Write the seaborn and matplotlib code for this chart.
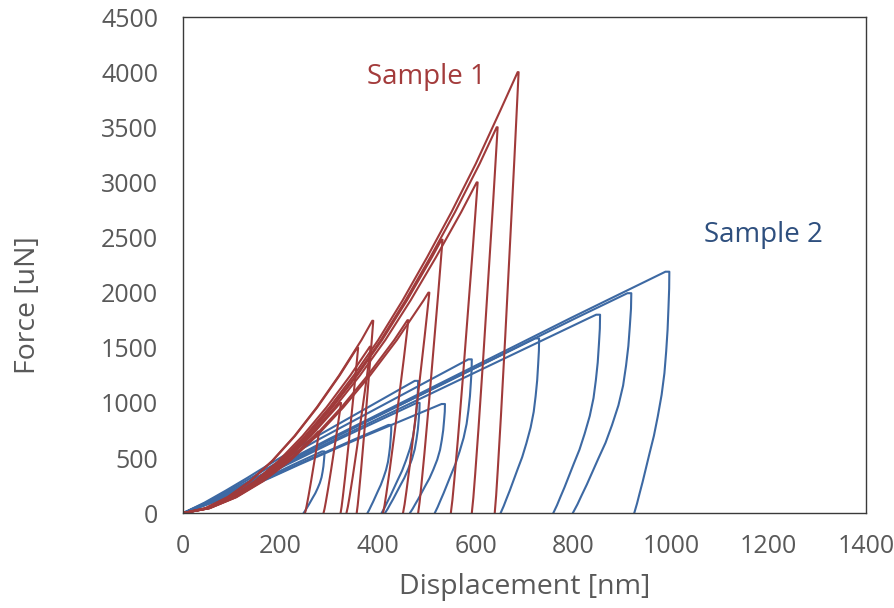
import numpy as np
import pandas as pd
import matplotlib
matplotlib.use('Agg')
import matplotlib.pyplot as plt
import seaborn as sns

sns.set_style('white')
plt.rcParams['font.family'] = ['Open Sans', 'DejaVu Sans']

# master loading curves (displacement nm, force uN)
red_load_h = np.array([0, 50, 100, 150, 200, 250, 300, 350, 400, 450, 500, 550, 600, 650, 700])
red_load_f = np.array([0, 45, 145, 290, 475, 700, 960, 1250, 1570, 1930, 2320, 2730, 3170, 3650, 4140])
blue_load_h = np.array([0, 50, 100, 150, 200, 300, 400, 500, 600, 700, 800, 900, 1000])
blue_load_f = np.array([0, 95, 205, 320, 440, 670, 890, 1110, 1330, 1550, 1770, 1985, 2200])

# sample 1 indents: peak displacement, peak force, residual displacement
s1_peak_h = [277, 322, 357, 383, 388, 460, 503, 530, 602, 643, 686]
s1_peak_f = [740, 1000, 1500, 1510, 1745, 1750, 2000, 2480, 3000, 3500, 4000]
s1_res_h = [250, 288, 323, 335, 356, 410, 451, 482, 549, 592, 639]
s1_creep = [2, 2, 2, 2, 2, 2, 2, 2, 2, 2, 2]

# sample 2 indents
s2_peak_h = [285, 421, 475, 479, 530, 585, 722, 847, 911, 989]
s2_peak_f = [560, 800, 1200, 1000, 990, 1395, 1585, 1800, 1995, 2190]
s2_res_h = [247, 378, 407, 414, 465, 516, 651, 759, 799, 925]
s2_creep = [5, 6, 7, 6, 7, 7, 8, 8, 8, 8]

# unloading shape (fraction of peak force, fraction of peak-to-residual span)
red_unload_f = [0.8, 0.6, 0.4, 0.22, 0.1, 0.04, 0.0]
red_unload_u = [0.82, 0.63, 0.44, 0.26, 0.13, 0.06, 0.0]
blue_unload_f = [0.93, 0.85, 0.76, 0.67, 0.58, 0.49, 0.40, 0.32, 0.25, 0.19, 0.13, 0.08, 0.04, 0.0]
blue_unload_u = [0.995, 0.975, 0.95, 0.91, 0.86, 0.78, 0.67, 0.56, 0.44, 0.34, 0.24, 0.15, 0.08, 0.0]


def build(name, load_h, load_f, peak_h, peak_f, res_h, creep, un_f, un_u):
    rows = []
    for i in range(len(peak_h)):
        s = peak_h[i] / np.interp(peak_f[i], load_f, load_h)
        keep = load_f < peak_f[i]
        hh = list(load_h[keep] * s) + [peak_h[i], peak_h[i] + creep[i]]
        ff = list(load_f[keep]) + [peak_f[i], peak_f[i]]
        top = peak_h[i] + creep[i]
        for fr, u in zip(un_f, un_u):
            hh.append(res_h[i] + u * (top - res_h[i]))
            ff.append(fr * peak_f[i])
        for k in range(len(hh)):
            rows.append((name, f'{name}-{i}', k, hh[k], ff[k]))
    return rows


rows = build('Sample 2', blue_load_h, blue_load_f, s2_peak_h, s2_peak_f, s2_res_h, s2_creep,
             blue_unload_f, blue_unload_u)
rows += build('Sample 1', red_load_h, red_load_f, s1_peak_h, s1_peak_f, s1_res_h, s1_creep,
              red_unload_f, red_unload_u)
df = pd.DataFrame(rows, columns=['sample', 'indent', 'step', 'h', 'F'])

red = '#A03A3A'
blue = '#3D69A3'

fig = plt.figure(figsize=(8.95, 6.08), dpi=100)
ax = fig.add_axes([0.2045, 0.156, 0.763, 0.816])
sns.lineplot(data=df, x='h', y='F', hue='sample', units='indent', estimator=None, sort=False,
             hue_order=['Sample 2', 'Sample 1'], palette={'Sample 1': red, 'Sample 2': blue},
             lw=1.5, legend=False, ax=ax)

ax.set_xlim(0, 1400)
ax.set_ylim(0, 4500)
ax.set_xticks(range(0, 1401, 200))
ax.set_yticks(range(0, 4501, 500))
ax.tick_params(axis='both', length=0, labelsize=18, labelcolor='#595959')
ax.tick_params(axis='x', pad=15)
ax.tick_params(axis='y', pad=18)
ax.set_xlabel('Displacement [nm]', fontsize=20.5, color='#595959', labelpad=10)
ax.set_ylabel('Force [uN]', fontsize=20.5, color='#595959')
ax.yaxis.set_label_coords(-0.206, 0.42)
for sp in ax.spines.values():
    sp.set_color('#3a3a3a')
    sp.set_linewidth(1.0)

ax.text(498, 3956, 'Sample 1', color='#A33B3B', fontsize=20, ha='center', va='center')
ax.text(1189, 2523, 'Sample 2', color='#2E4F7E', fontsize=20, ha='center', va='center')

fig.savefig('out.png', dpi=100)
